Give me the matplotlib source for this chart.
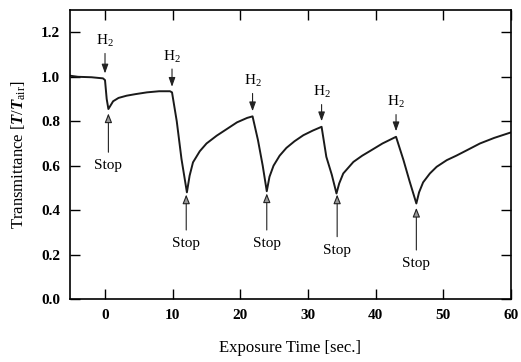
import matplotlib

matplotlib.use("Agg")
import matplotlib.pyplot as plt

# Transmittance trace
time_s = [-5.2, -4.0, -2.0, -1.0, -0.3, 0.0, 0.25, 0.5, 0.8, 1.2, 2.0, 3.2, 4.5,
          6.2, 8.0, 9.6, 9.9, 10.6, 11.3, 12.1, 12.5, 13.0, 14.0, 15.0, 16.5,
          18.0, 19.5, 21.0, 21.8, 22.6, 23.3, 23.9, 24.3, 24.9, 25.8, 26.8,
          28.0, 29.3, 30.7, 32.0, 32.7, 33.5, 34.2, 34.6, 35.2, 36.7, 38.0,
          39.1, 41.0, 43.0, 44.1, 45.0, 46.0, 46.4, 47.0, 48.0, 49.0, 50.5,
          51.9, 53.5, 55.4, 57.5, 60.0]
transmittance = [1.005, 1.0, 0.998, 0.995, 0.993, 0.985, 0.90, 0.855, 0.87, 0.89,
                 0.905, 0.915, 0.922, 0.93, 0.935, 0.935, 0.93, 0.80, 0.63, 0.48,
                 0.555, 0.615, 0.665, 0.70, 0.735, 0.765, 0.795, 0.815, 0.822, 0.715,
                 0.60, 0.485, 0.55, 0.60, 0.645, 0.68, 0.71, 0.737, 0.758, 0.775,
                 0.64, 0.56, 0.475, 0.52, 0.565, 0.617, 0.645, 0.665, 0.70, 0.73,
                 0.625, 0.53, 0.43, 0.48, 0.525, 0.565, 0.595, 0.625, 0.645, 0.67,
                 0.70, 0.725, 0.75]

# H2 on / Stop markers: x, label y, arrow tip y
h2_x = [0.0, 9.9, 21.8, 32.0, 43.0]
h2_label_y = [1.16, 1.09, 0.98, 0.93, 0.885]
h2_tip_y = [1.015, 0.955, 0.845, 0.80, 0.755]

stop_x = [0.5, 12.0, 23.9, 34.3, 46.0]
stop_label_y = [0.60, 0.25, 0.25, 0.22, 0.16]
stop_tip_y = [0.835, 0.47, 0.475, 0.47, 0.41]

x_ticks = [0, 10, 20, 30, 40, 50, 60]
y_ticks = [0.0, 0.2, 0.4, 0.6, 0.8, 1.0, 1.2]

plt.rcParams["font.family"] = ["Liberation Serif", "DejaVu Serif"]
plt.rcParams["mathtext.fontset"] = "custom"
plt.rcParams["mathtext.rm"] = "Liberation Serif"
plt.rcParams["mathtext.it"] = "Liberation Serif:italic:bold"
plt.rcParams["mathtext.bf"] = "Liberation Serif:bold"

fig = plt.figure(figsize=(5.21, 3.62), dpi=100)
ax = fig.add_axes([0.134, 0.174, 0.847, 0.798])

ax.plot(time_s, transmittance, color="#1a1a1a", lw=1.4)

for x, ty, tip in zip(h2_x, h2_label_y, h2_tip_y):
    ax.annotate(r"H$_2$", xy=(x, tip), xytext=(x, ty), ha="center", va="center",
                fontsize=11,
                arrowprops=dict(arrowstyle="-|>,head_length=0.5,head_width=0.18",
                                color="#222222", lw=0.8, shrinkA=1, shrinkB=0))

for x, ty, tip in zip(stop_x, stop_label_y, stop_tip_y):
    ax.annotate("Stop", xy=(x, tip), xytext=(x, ty), ha="center", va="center",
                fontsize=11,
                arrowprops=dict(arrowstyle="-|>,head_length=0.5,head_width=0.2",
                                edgecolor="#222222", facecolor="#999999", lw=0.8,
                                shrinkA=3, shrinkB=0))

ax.set_xlim(-5.2, 60)
ax.set_ylim(0, 1.3)
ax.set_xticks(x_ticks)
ax.set_yticks(y_ticks)
ax.set_yticklabels([f"{v:.1f}" for v in y_ticks])
ax.tick_params(direction="in", length=7, width=1, top=True, right=True,
               labelsize=11, pad=7)
for lab in ax.get_xticklabels() + ax.get_yticklabels():
    lab.set_fontweight("bold")
for s in ax.spines.values():
    s.set_linewidth(1.2)

ax.set_xlabel("Exposure Time [sec.]", fontsize=12, labelpad=13)
ax.set_ylabel(r"Transmittance [$T/T_{\rm air}$]", fontsize=12, labelpad=9)

fig.savefig("out.png", dpi=100)
